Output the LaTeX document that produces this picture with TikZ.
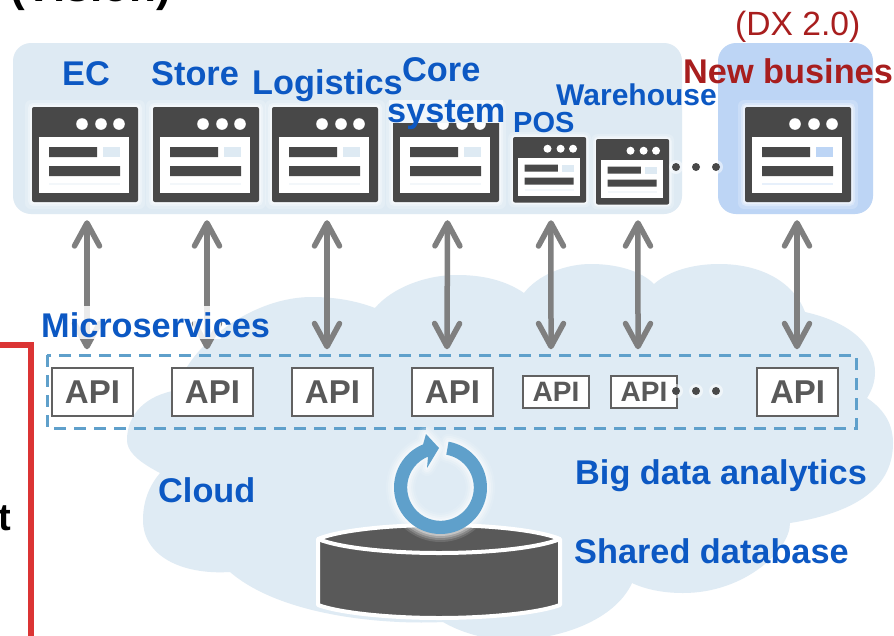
\documentclass[tikz,border=0pt]{standalone}
\usepackage{fontspec}
\setmainfont{Liberation Sans}
\usetikzlibrary{arrows.meta}
\definecolor{panelc}{HTML}{DEEAF3}
\definecolor{newc}{HTML}{BDD5F5}
\definecolor{cloudc}{HTML}{DFEBF4}
\definecolor{bluet}{HTML}{0C58C3}
\definecolor{redt}{HTML}{A81E1E}
\definecolor{darkc}{HTML}{484848}
\definecolor{arrowc}{HTML}{7F7F7F}
\definecolor{dashc}{HTML}{5FA0CB}
\definecolor{apic}{HTML}{595959}
\definecolor{redl}{HTML}{DB3434}
\definecolor{cylc}{HTML}{595959}
\newcommand{\fsz}[1]{\fontsize{#1}{#1}\selectfont}
\tikzset{
  lbl/.style={anchor=base west,inner sep=0pt,text=bluet,font=\fsz{34.3}\bfseries},
  smlbl/.style={anchor=base west,inner sep=0pt,text=bluet,font=\fsz{#1}\bfseries},
  redlbl/.style={anchor=base west,inner sep=0pt,text=redt,font=\fsz{34.3}\bfseries},
  panel/.style={rounded corners=18pt},
  conn/.style={draw=arrowc,line width=5.5pt,{Straight Barb[round,length=23pt,width=25pt]}-{Straight Barb[round,length=23pt,width=25pt]}},
  apibig/.style={draw=apic!95,line width=1.5pt,fill=white,minimum width=81pt,minimum height=48pt,inner sep=0pt,text=apic,font=\fsz{33}\bfseries},
  apismall/.style={draw=apic!95,line width=1.5pt,fill=white,minimum width=66pt,minimum height=32pt,inner sep=0pt,text=apic,font=\fsz{28}\bfseries},
  dotc/.style={circle,fill=darkc,minimum size=8pt,inner sep=0pt},
  winbox/.style={fill=darkc,rounded corners=2pt,inner sep=0pt}
}
% name, left, top, scale, accent colour
\newcommand{\winicon}[5]{%
  \begin{scope}[shift={(#2,#3)},scale=#4]
    \fill[white,opacity=.2,rounded corners=6pt] (-7,-7) rectangle (113,102);
    \fill[white,opacity=.3,rounded corners=5pt] (-4,-4) rectangle (110,99);
    \fill[white,opacity=.45,rounded corners=3pt] (-2,-2) rectangle (108,97);
  \end{scope}
  \node[winbox,minimum width={106pt*#4},minimum height={95pt*#4}] (#1) at ({#2+53*#4},{#3+47.5*#4}) {};
  \begin{scope}[shift={(#2,#3)},scale=#4]
    \fill[white] (7,30) rectangle (97,86);
    \fill[white] (50,17) circle (5.8) (69,17) circle (5.8) (87,17) circle (5.8);
    \fill[darkc] (17,40) rectangle (65,50) (17,59) rectangle (88,69);
    \fill[#5] (71,40) rectangle (88,50);
    \fill[#5,opacity=.35] (17,76) rectangle (88,78);
  \end{scope}
}
\begin{document}
\begin{tikzpicture}[x=1pt,y=-1pt]
\fill[white] (0,0) rectangle (894,635);
\useasboundingbox (0,0) rectangle (894,635);
% red frame
\draw[redl,line width=6pt] (-5,345) -- (31,345) -- (31,640);
% cloud
\fill[cloudc] (178,390)
  .. controls (182,355) and (245,297) .. (312,297)
  .. controls (335,297) and (357,301) .. (375,308)
  .. controls (392,288) and (425,275) .. (457,275)
  .. controls (482,275) and (505,280) .. (524,293)
  .. controls (538,275) and (565,264) .. (591,264)
  .. controls (615,264) and (640,270) .. (654,284)
  .. controls (670,270) and (695,264) .. (719,264)
  .. controls (765,264) and (795,285) .. (805,312)
  .. controls (850,322) and (875,345) .. (875,372)
  .. controls (875,382) and (872,390) .. (867,398)
  .. controls (885,410) and (893,425) .. (893,443)
  .. controls (893,485) and (860,512) .. (790,523)
  .. controls (790,550) and (745,593) .. (683,593)
  .. controls (665,593) and (647,590) .. (632,583)
  .. controls (615,620) and (560,640) .. (510,640)
  .. controls (485,640) and (460,632) .. (443,622)
  .. controls (380,625) and (280,615) .. (230,572)
  .. controls (180,575) and (143,555) .. (143,520)
  .. controls (143,500) and (150,485) .. (160,473)
  .. controls (135,460) and (127,450) .. (127,440)
  .. controls (127,415) and (145,395) .. (178,390) -- cycle;
% panels
\fill[panelc,panel] (13,43) rectangle (682,214);
\fill[newc,panel] (718,43) rectangle (873,214);
% windows
\winicon{wEC}{32}{107}{1}{panelc}
\winicon{wStore}{153}{107}{1}{panelc}
\winicon{wLog}{272}{107}{1}{panelc}
\winicon{wCore}{393}{107}{1}{panelc}
\winicon{wPOS}{513}{137}{.69}{panelc}
\winicon{wWare}{596}{139}{.69}{panelc}
\winicon{wNew}{745}{107}{1}{newc}
% dashed box
\draw[dashc,line width=3pt,dash pattern=on 12pt off 8pt] (47,355) rectangle (856,428);
% APIs
\node[apibig] (aEC) at (92.5,392) {API};
\node[apibig] (aStore) at (212.5,392) {API};
\node[apibig] (aLog) at (332.5,392) {API};
\node[apibig] (aCore) at (452.5,392) {API};
\node[apismall] (aPOS) at (556,392) {API};
\node[apismall] (aWare) at (644,392) {API};
\node[apibig] (aNew) at (797.5,392) {API};
% connectors
\draw[conn] ([xshift=2pt,yshift=-18pt]wEC.south) -- ([xshift=-5.5pt,yshift=18pt]aEC.north);
\draw[conn] ([xshift=1pt,yshift=-18pt]wStore.south) -- ([xshift=-5.5pt,yshift=18pt]aStore.north);
\draw[conn] ([xshift=2pt,yshift=-18pt]wLog.south) -- ([xshift=-5.5pt,yshift=18pt]aLog.north);
\draw[conn] ([xshift=1.5pt,yshift=-18pt]wCore.south) -- ([xshift=-5.5pt,yshift=18pt]aCore.north);
\draw[conn] ([xshift=1.4pt,yshift=-17.5pt]wPOS.south) -- ([xshift=-5pt,yshift=26pt]aPOS.north);
\draw[conn] ([xshift=5.4pt,yshift=-15.5pt]wWare.south) -- ([xshift=-6pt,yshift=26pt]aWare.north);
\draw[conn] ([xshift=-1pt,yshift=-18pt]wNew.south) -- ([xshift=-.5pt,yshift=18pt]aNew.north);
% soft veils where labels lie over arrows and over the Core window
\fill[white,opacity=.85] (73,306) rectangle (101,339);
\fill[white,opacity=.85] (193,306) rectangle (221,339);
\fill[panelc!45!white] (389,100) rectangle (503,123);
% dots
\foreach \n/\x/\y in {d1/676/167,d2/696/167,d3/716/167,e1/676/391,e2/696/391,e3/716/391}{
  \fill[white,opacity=.5] (\x,\y) circle (7);
  \node[dotc] (\n) at (\x,\y) {};
}
% cylinder
\draw[white,line width=4pt,fill=cylc,line join=round] (318,539) -- (318,605)
  .. controls (340,613) and (390,618) .. (439,618)
  .. controls (488,618) and (538,613) .. (560,605) -- (560,539)
  .. controls (538,530) and (488,525) .. (439,525)
  .. controls (390,525) and (340,530) .. (318,539) -- cycle;
\draw[white,line width=4pt] (318,539)
  .. controls (340,548) and (390,553) .. (439,553)
  .. controls (488,553) and (538,548) .. (560,539);
% ring
\begin{scope}
  \foreach \w/\o in {16/.12,12/.18,8/.25,4/.35}{
    \draw[white,opacity=\o,line width=\w pt,line join=round]
      plot[domain=80:-248,samples=70] ({440.5+46.5*cos(\x)},{487.5-46.5*sin(\x)})
      -- (426,434) -- (439,448) -- (427,468)
      -- plot[domain=-248:80,samples=70] ({440.5+33.3*cos(\x)},{487.5-33.3*sin(\x)}) -- cycle;
  }
  \fill[dashc] plot[domain=80:-248,samples=70] ({440.5+46.5*cos(\x)},{487.5-46.5*sin(\x)})
      -- (426,434) -- (439,448) -- (427,468)
      -- plot[domain=-248:80,samples=70] ({440.5+33.3*cos(\x)},{487.5-33.3*sin(\x)}) -- cycle;
\end{scope}
% labels
\node[inner sep=0pt,anchor=base west,font=\fsz{44}\bfseries] (tVision) at (10,1) {(Vision)};
\node[inner sep=0pt,anchor=base west,font=\fsz{38}\bfseries] (tT) at (-2,530) {t};
\node[lbl] (tEC) at (62,85) {EC};
\node[lbl] (tStore) at (151,85) {Store};
\node[lbl] (tLog) at (252,94) {Logistics};
\node[lbl] (tCore) at (402,81) {Core};
\node[lbl] (tSys) at (387,122) {system};
\node[smlbl=29] (tPOS) at (513,132) {POS};
\node[smlbl=30] (tWare) at (556,105) {Warehouse};
\node[redlbl] (tNew) at (683,83) {New busines};
\node[anchor=base west,inner sep=0pt,text=redt,font=\fsz{33.6}] (tDX) at (735,35) {(DX 2.0)};
\node[lbl] (tMicro) at (41,337) {Microservices};
\node[lbl] (tCloud) at (158,502) {Cloud};
\node[lbl] (tBig) at (575,484) {Big data analytics};
\node[lbl] (tShared) at (574,563) {Shared database};
\end{tikzpicture}
\end{document}
